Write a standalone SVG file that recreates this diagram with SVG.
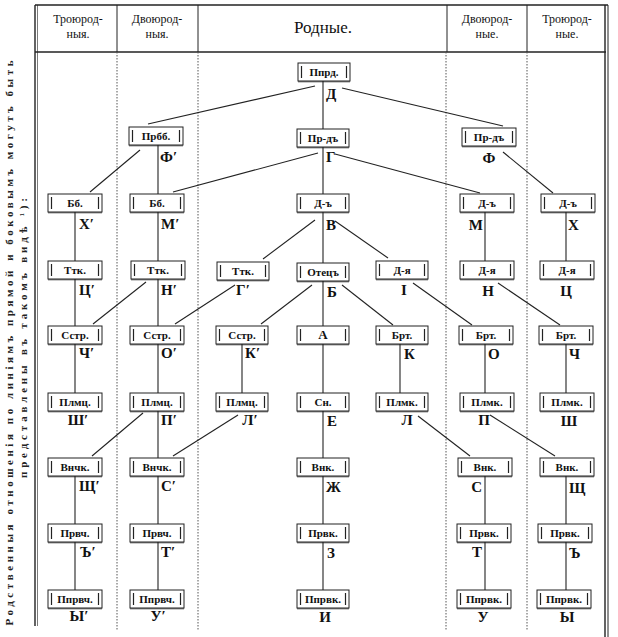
<svg xmlns="http://www.w3.org/2000/svg" width="618" height="637" viewBox="0 0 618 637" font-family="'Liberation Serif','Times New Roman',Tinos,'DejaVu Serif','Noto Serif',serif">
<style>
.frame{stroke:#222;stroke-width:1.4;fill:none}
.dot{stroke:#555;stroke-width:1;stroke-dasharray:1.5 1.5;fill:none}
text{font-family:'Liberation Serif','Times New Roman',Tinos,'DejaVu Serif','Noto Serif',serif}
.hd{font-size:12px;fill:#111;text-anchor:middle}
.hdb{font-size:17px;fill:#111;text-anchor:middle}
.side{font-size:11px;font-weight:bold;fill:#222;text-anchor:middle}
.box{fill:#fff;stroke:#222;stroke-width:1}
.bar{stroke:#222;stroke-width:1.2}
.bt{font-size:11px;font-weight:bold;fill:#111;text-anchor:middle}
.lb{font-size:15px;font-weight:bold;fill:#111}
.m{text-anchor:middle}
.e{text-anchor:end}
#connectors line{stroke:#222;stroke-width:1.1}
</style>
<rect width="618" height="637" fill="#fff"/>
<g id="side-text">
<text class="side" transform="translate(13,343) rotate(-90)" textLength="565" lengthAdjust="spacing">Родственныя отношенія по линіямъ прямой и боковымъ могутъ быть</text>
<text class="side" transform="translate(27,338) rotate(-90)" textLength="280" lengthAdjust="spacing">представлены въ такомъ видѣ ¹):</text>
</g>
<g id="frame">
<line class="frame" x1="35" y1="5" x2="608" y2="5"/>
<line class="frame" x1="35" y1="5" x2="35" y2="626"/>
<line class="frame" x1="37.5" y1="5" x2="37.5" y2="626" style="stroke-width:0.6"/>
<line class="frame" x1="35" y1="52" x2="606" y2="52"/>
<line class="frame" x1="605" y1="5" x2="605" y2="637"/>
<line class="frame" x1="608" y1="5" x2="608" y2="637" style="stroke-width:1"/>
<line class="frame" x1="117" y1="5" x2="117" y2="52" style="stroke-width:1"/>
<line class="frame" x1="198" y1="5" x2="198" y2="52" style="stroke-width:1"/>
<line class="frame" x1="447" y1="5" x2="447" y2="52" style="stroke-width:1"/>
<line class="frame" x1="527" y1="5" x2="527" y2="52" style="stroke-width:1"/>
<line class="dot" x1="117" y1="52" x2="117" y2="630"/>
<line class="dot" x1="198" y1="52" x2="198" y2="630"/>
<line class="dot" x1="446" y1="52" x2="446" y2="630"/>
<line class="dot" x1="527" y1="52" x2="527" y2="630"/>
</g>
<g id="header">
<text class="hd" x="78" y="23">Троюрод-</text><text class="hd" x="78" y="38">ныя.</text>
<text class="hd" x="157" y="23">Двоюрод-</text><text class="hd" x="157" y="38">ныя.</text>
<text class="hdb" x="323" y="33">Родные.</text>
<text class="hd" x="487" y="23">Двоюрод-</text><text class="hd" x="487" y="38">ные.</text>
<text class="hd" x="567" y="23">Троюрод-</text><text class="hd" x="567" y="38">ные.</text>
</g>
<g id="connectors">
<line x1="75" y1="212" x2="75" y2="261"/><line x1="75" y1="279" x2="75" y2="326"/><line x1="75" y1="344" x2="75" y2="393"/><line x1="75" y1="476" x2="75" y2="524"/><line x1="75" y1="542" x2="75" y2="590"/>
<line x1="158" y1="145" x2="158" y2="194"/><line x1="158" y1="212" x2="158" y2="261"/><line x1="158" y1="279" x2="158" y2="326"/><line x1="158" y1="344" x2="158" y2="393"/><line x1="158" y1="411" x2="158" y2="458"/><line x1="158" y1="476" x2="158" y2="524"/><line x1="158" y1="542" x2="158" y2="590"/>
<line x1="242" y1="344" x2="242" y2="393"/>
<line x1="323" y1="81" x2="323" y2="129"/><line x1="323" y1="147" x2="323" y2="194"/><line x1="323" y1="212" x2="323" y2="263"/><line x1="323" y1="281" x2="323" y2="326"/><line x1="323" y1="344" x2="323" y2="393"/><line x1="323" y1="411" x2="323" y2="458"/><line x1="323" y1="476" x2="323" y2="524"/><line x1="323" y1="542" x2="323" y2="590"/>
<line x1="400" y1="344" x2="400" y2="393"/>
<line x1="485" y1="212" x2="485" y2="261"/><line x1="485" y1="344" x2="485" y2="393"/><line x1="485" y1="476" x2="485" y2="524"/><line x1="485" y1="542" x2="485" y2="590"/>
<line x1="566" y1="212" x2="566" y2="261"/><line x1="566" y1="344" x2="566" y2="393"/><line x1="566" y1="476" x2="566" y2="524"/><line x1="566" y1="542" x2="566" y2="590"/>
<line x1="315" y1="86" x2="148" y2="124"/>
<line x1="342" y1="88" x2="503" y2="126"/>
<line x1="140" y1="150" x2="90" y2="192"/>
<line x1="318" y1="153" x2="173" y2="192"/>
<line x1="335" y1="154" x2="480" y2="193"/>
<line x1="503" y1="152" x2="553" y2="193"/>
<line x1="315" y1="220" x2="263" y2="259"/>
<line x1="335" y1="221" x2="388" y2="258"/>
<line x1="146" y1="282" x2="93" y2="324"/>
<line x1="235" y1="285" x2="175" y2="324"/>
<line x1="312" y1="285" x2="261" y2="324"/>
<line x1="342" y1="285" x2="393" y2="325"/>
<line x1="413" y1="283" x2="472" y2="325"/>
<line x1="498" y1="283" x2="560" y2="325"/>
<line x1="143" y1="413" x2="92" y2="456"/>
<line x1="238" y1="415" x2="173" y2="456"/>
<line x1="418" y1="416" x2="470" y2="456"/>
<line x1="490" y1="415" x2="555" y2="456"/>
</g>
<defs>
<g id="b54"><rect class="box" x="0" y="0" width="54" height="18"/><line class="bar" x1="3.5" y1="3" x2="3.5" y2="15"/><line class="bar" x1="50.5" y1="3" x2="50.5" y2="15"/><line x1="0" y1="18.8" x2="54" y2="18.8" stroke="#222" stroke-width="0.8"/></g>
<g id="b52"><rect class="box" x="0" y="0" width="52" height="18"/><line class="bar" x1="3.5" y1="3" x2="3.5" y2="15"/><line class="bar" x1="48.5" y1="3" x2="48.5" y2="15"/><line x1="0" y1="18.8" x2="52" y2="18.8" stroke="#222" stroke-width="0.8"/></g>
</defs>
<g id="n-pprd"><use href="#b52" x="298" y="63"/><text class="bt" x="324" y="76">Ппрд.</text><text class="lb" x="326" y="99">Д</text></g>
<g id="n-prbb"><use href="#b54" x="129" y="127"/><text class="bt" x="156" y="140">Прбб.</text><text class="lb" x="160" y="162">Ф′</text></g>
<g id="n-prd-c"><use href="#b52" x="297" y="129"/><text class="bt" x="323" y="142">Пр-дъ</text><text class="lb" x="326" y="162">Г</text></g>
<g id="n-prd-r"><use href="#b54" x="462" y="128"/><text class="bt" x="489" y="141">Пр-дъ</text><text class="lb m" x="489" y="163">Ф</text></g>
<g id="n-bb1"><use href="#b54" x="48" y="194"/><text class="bt" x="75" y="207">Бб.</text><text class="lb" x="79" y="229">Х′</text></g>
<g id="n-bb2"><use href="#b54" x="130" y="194"/><text class="bt" x="157" y="207">Бб.</text><text class="lb" x="161" y="229">М′</text></g>
<g id="n-d-c"><use href="#b52" x="297" y="194"/><text class="bt" x="323" y="207">Д-ъ</text><text class="lb" x="326" y="230">В</text></g>
<g id="n-d-r1"><use href="#b54" x="460" y="194"/><text class="bt" x="487" y="207">Д-ъ</text><text class="lb e" x="483" y="230">М</text></g>
<g id="n-d-r2"><use href="#b54" x="541" y="194"/><text class="bt" x="568" y="207">Д-ъ</text><text class="lb" x="568" y="230">Х</text></g>
<g id="n-ttk1"><use href="#b54" x="48" y="261"/><text class="bt" x="75" y="274">Ттк.</text><text class="lb" x="79" y="295">Ц′</text></g>
<g id="n-ttk2"><use href="#b54" x="131" y="261"/><text class="bt" x="158" y="274">Ттк.</text><text class="lb" x="161" y="295">Н′</text></g>
<g id="n-ttk3"><use href="#b52" x="217" y="262"/><text class="bt" x="243" y="275">Ттк.</text><text class="lb m" x="243" y="295">Г′</text></g>
<g id="n-otets"><use href="#b52" x="297" y="263"/><text class="bt" x="323" y="276">Отецъ</text><text class="lb" x="327" y="297">Б</text></g>
<g id="n-dya-c"><use href="#b52" x="376" y="261"/><text class="bt" x="402" y="274">Д-я</text><text class="lb m" x="404" y="295">І</text></g>
<g id="n-dya-r1"><use href="#b54" x="460" y="261"/><text class="bt" x="487" y="274">Д-я</text><text class="lb m" x="488" y="296">Н</text></g>
<g id="n-dya-r2"><use href="#b54" x="540" y="261"/><text class="bt" x="567" y="274">Д-я</text><text class="lb m" x="566" y="296">Ц</text></g>
<g id="n-sstr1"><use href="#b54" x="48" y="326"/><text class="bt" x="75" y="339">Сстр.</text><text class="lb" x="79" y="358">Ч′</text></g>
<g id="n-sstr2"><use href="#b54" x="130" y="326"/><text class="bt" x="157" y="339">Сстр.</text><text class="lb" x="161" y="358">О′</text></g>
<g id="n-sstr3"><use href="#b52" x="216" y="326"/><text class="bt" x="242" y="339">Сстр.</text><text class="lb" x="245" y="358">К′</text></g>
<g id="n-a"><use href="#b52" x="297" y="326"/><text class="bt" x="323" y="339" style="font-size:13px">А</text></g>
<g id="n-brt-c"><use href="#b52" x="376" y="326"/><text class="bt" x="402" y="339">Брт.</text><text class="lb" x="404" y="359">К</text></g>
<g id="n-brt-r1"><use href="#b54" x="459" y="326"/><text class="bt" x="486" y="339">Брт.</text><text class="lb" x="488" y="359">О</text></g>
<g id="n-brt-r2"><use href="#b54" x="539" y="326"/><text class="bt" x="566" y="339">Брт.</text><text class="lb" x="569" y="359">Ч</text></g>
<g id="n-plmts1"><use href="#b54" x="48" y="393"/><text class="bt" x="75" y="406">Плмц.</text><text class="lb m" x="78" y="425">Ш′</text></g>
<g id="n-plmts2"><use href="#b54" x="130" y="393"/><text class="bt" x="157" y="406">Плмц.</text><text class="lb" x="161" y="425">П′</text></g>
<g id="n-plmts3"><use href="#b52" x="216" y="393"/><text class="bt" x="242" y="406">Плмц.</text><text class="lb m" x="250" y="425">Л′</text></g>
<g id="n-sn"><use href="#b52" x="297" y="393"/><text class="bt" x="323" y="406">Сн.</text><text class="lb" x="327" y="426">Е</text></g>
<g id="n-plmk-c"><use href="#b52" x="376" y="393"/><text class="bt" x="402" y="406">Плмк.</text><text class="lb m" x="407" y="425">Л</text></g>
<g id="n-plmk-r1"><use href="#b54" x="460" y="393"/><text class="bt" x="487" y="406">Плмк.</text><text class="lb m" x="484" y="425">П</text></g>
<g id="n-plmk-r2"><use href="#b54" x="540" y="393"/><text class="bt" x="567" y="406">Плмк.</text><text class="lb m" x="569" y="426">Ш</text></g>
<g id="n-vnchk1"><use href="#b54" x="48" y="458"/><text class="bt" x="75" y="471">Внчк.</text><text class="lb" x="79" y="491">Щ′</text></g>
<g id="n-vnchk2"><use href="#b54" x="130" y="458"/><text class="bt" x="157" y="471">Внчк.</text><text class="lb" x="161" y="491">С′</text></g>
<g id="n-vnk-c"><use href="#b52" x="297" y="458"/><text class="bt" x="323" y="471">Внк.</text><text class="lb" x="326" y="492">Ж</text></g>
<g id="n-vnk-r1"><use href="#b54" x="458" y="458"/><text class="bt" x="485" y="471">Внк.</text><text class="lb e" x="482" y="492">С</text></g>
<g id="n-vnk-r2"><use href="#b54" x="540" y="458"/><text class="bt" x="567" y="471">Внк.</text><text class="lb" x="569" y="493">Щ</text></g>
<g id="n-prvch1"><use href="#b54" x="48" y="524"/><text class="bt" x="75" y="537">Првч.</text><text class="lb" x="80" y="557">Ъ′</text></g>
<g id="n-prvch2"><use href="#b54" x="130" y="524"/><text class="bt" x="157" y="537">Првч.</text><text class="lb" x="161" y="557">Т′</text></g>
<g id="n-prvk-c"><use href="#b52" x="297" y="524"/><text class="bt" x="323" y="537">Првк.</text><text class="lb" x="327" y="558">З</text></g>
<g id="n-prvk-r1"><use href="#b54" x="457" y="524"/><text class="bt" x="484" y="537">Првк.</text><text class="lb e" x="482" y="557">Т</text></g>
<g id="n-prvk-r2"><use href="#b54" x="538" y="524"/><text class="bt" x="565" y="537">Првк.</text><text class="lb" x="569" y="558">Ъ</text></g>
<g id="n-pprvch1"><use href="#b54" x="48" y="590"/><text class="bt" x="75" y="603">Ппрвч.</text><text class="lb m" x="79" y="621">Ы′</text></g>
<g id="n-pprvch2"><use href="#b54" x="130" y="590"/><text class="bt" x="157" y="603">Ппрвч.</text><text class="lb m" x="158" y="621">У′</text></g>
<g id="n-pprvk-c"><use href="#b52" x="297" y="590"/><text class="bt" x="323" y="603">Ппрвк.</text><text class="lb m" x="325" y="622">И</text></g>
<g id="n-pprvk-r1"><use href="#b54" x="457" y="590"/><text class="bt" x="484" y="603">Ппрвк.</text><text class="lb m" x="483" y="622">У</text></g>
<g id="n-pprvk-r2"><use href="#b54" x="537" y="590"/><text class="bt" x="564" y="603">Ппрвк.</text><text class="lb m" x="567" y="622">Ы</text></g>
</svg>
